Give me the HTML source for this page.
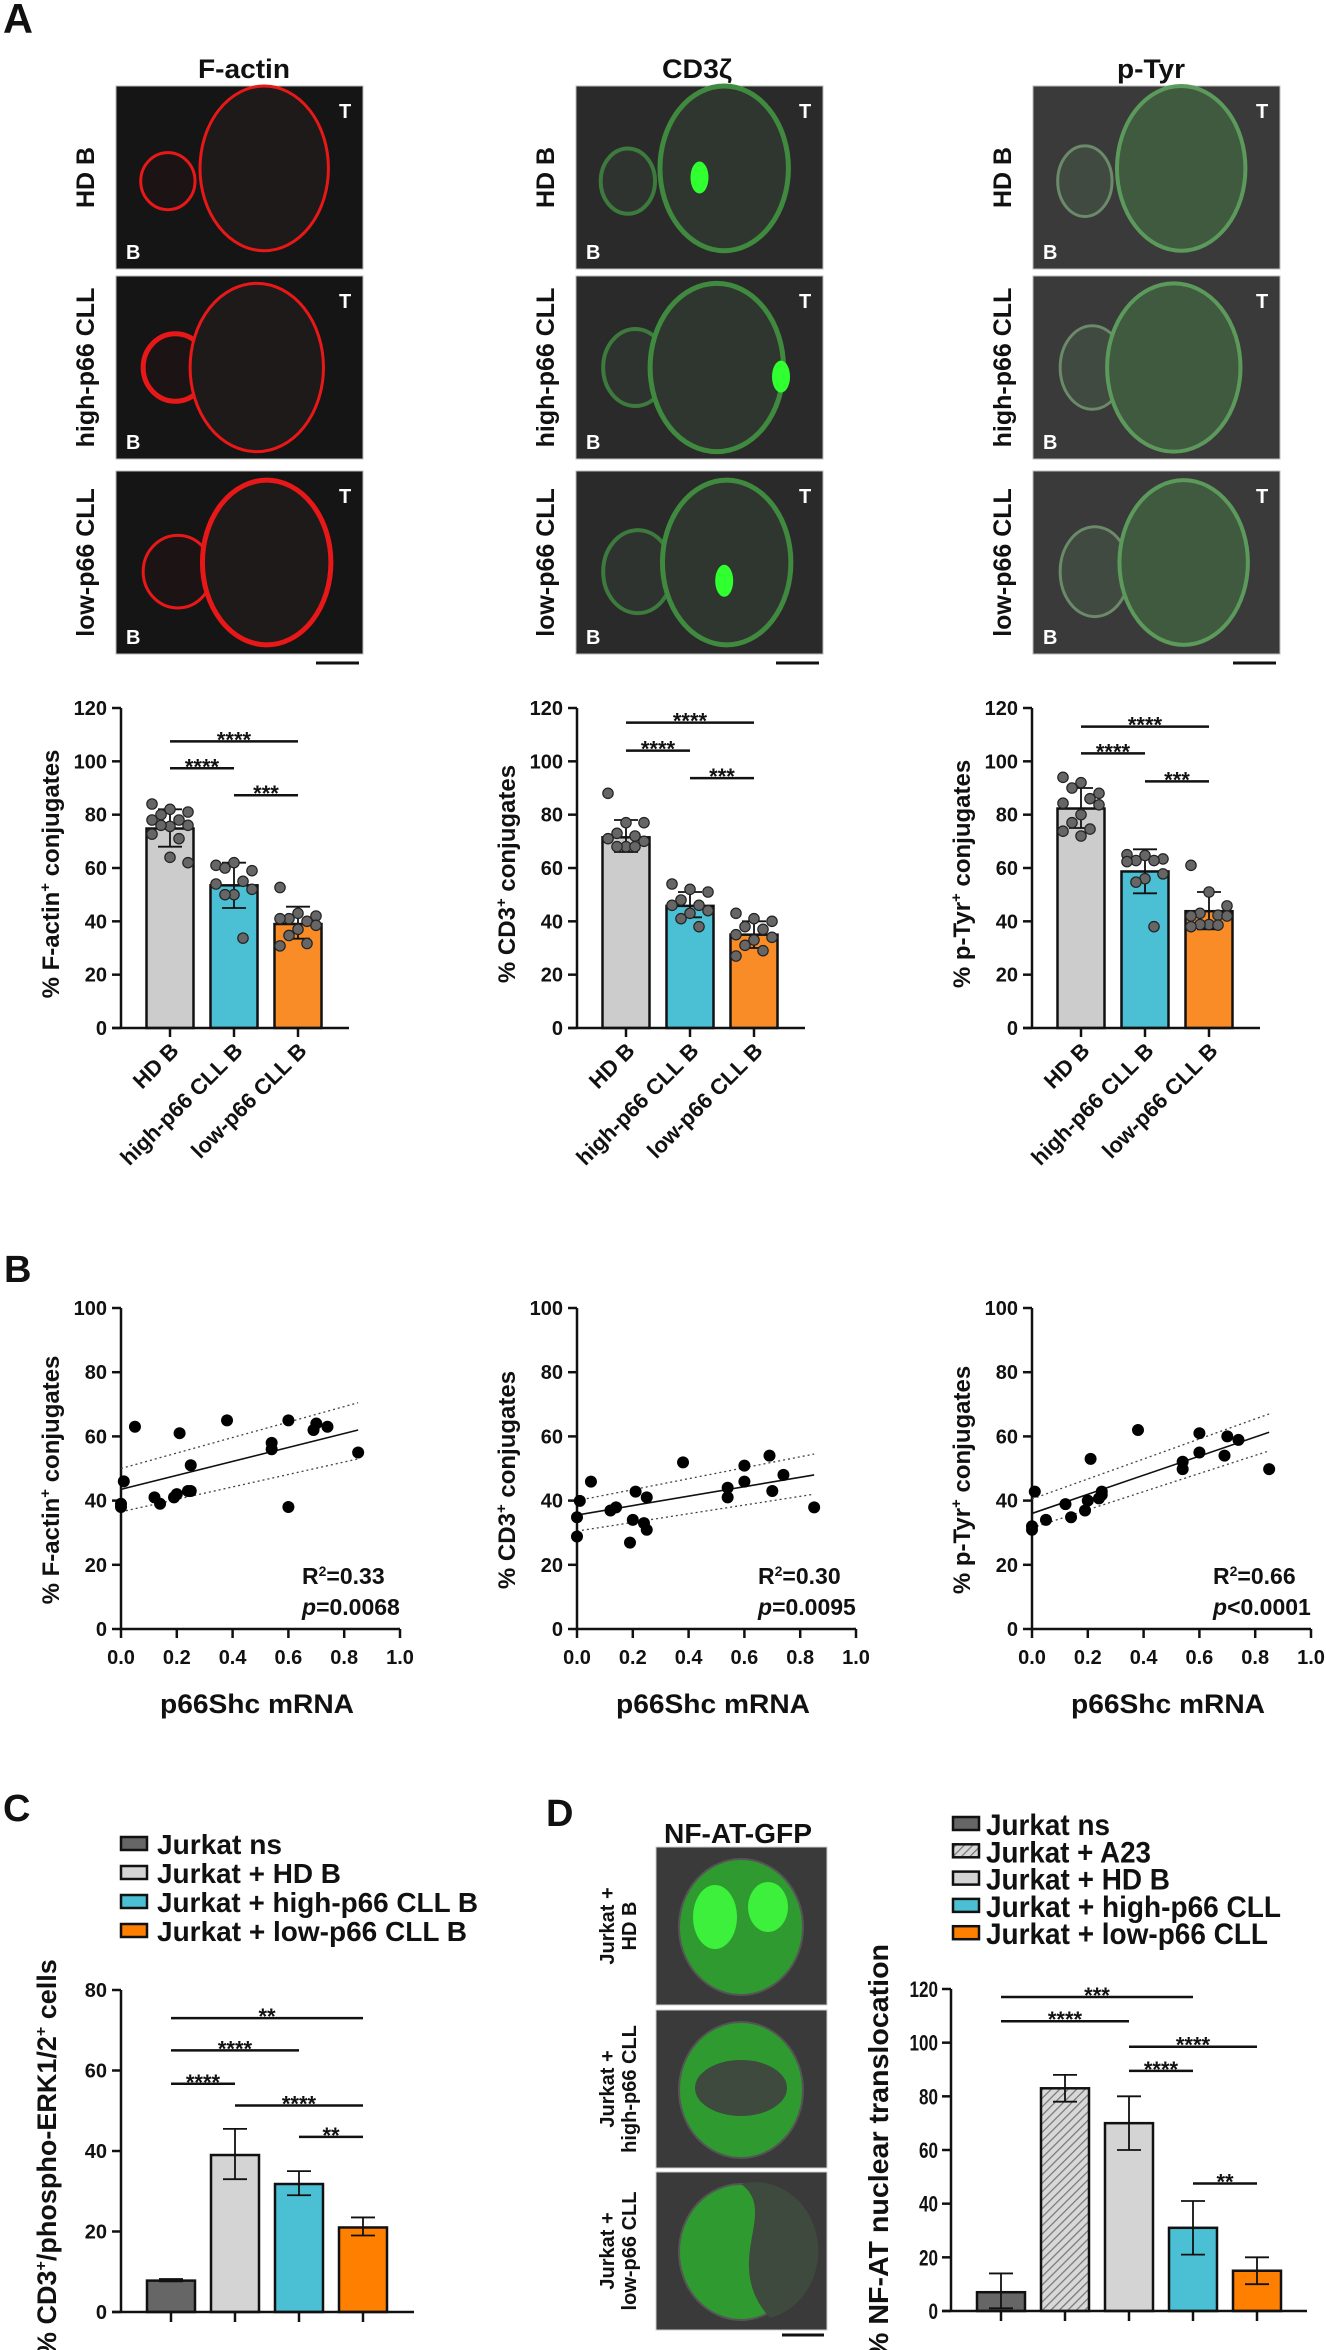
<!DOCTYPE html>
<html><head><meta charset="utf-8"><style>
html,body{margin:0;padding:0;background:#fff}
svg{display:block;font-family:"Liberation Sans",Arial,sans-serif}
</style></head><body>
<svg id="fig" xmlns="http://www.w3.org/2000/svg" width="1326" height="2350" viewBox="0 0 1326 2350"></svg>
<script>
// ---------- DATA ----------
const aCategories=['HD B','high-p66 CLL B','low-p66 CLL B'];
const aTitles=['F-actin','CD3','p-Tyr'];
const aMeans=[[74.8,53.5,39],[71.5,45.8,35],[82.3,58.7,43.8]];
const aErrLo=[[68,45,33.5],[66,41.5,30],[75,50.5,37]];
const aErrHi=[[82,62,45.5],[78,51,40],[90,67,51]];
const aDots1=[[84,82,81,80,78,78,76,75.6,76,71,72.7,64,62],[61,62,59,60,55,54,52,50,50,33.7],[52.7,43,42,41,40,41,38.5,37,34.7,31.7,30.8]];
const aDots2=[[88,77,77,73,72,71,70,68,68,68],[54,52,51,48,46,46,44,43,41,38],[43,41,40,38,37,35,34,33,31,29,27]];
const aDots3=[[94,92,88,90,86,84.3,83.7,80,77,74.6,73.8,72],[65,64.7,63.4,62.8,62.8,62.4,57.8,56,54.7,38],[61,51,45.8,43,42.3,42,42,38.8,38.8,38.6,38]];
const aSigLevels=[[107.5,97.4,87.3],[114.5,104,93.7],[113,103,92.5]];
const aSigPairs=[[0,2],[0,1],[1,2]];
const aSigLabels=['****','****','***'];
const aYTicks=[0,20,40,60,80,100,120];

const bX1=[0,0,0.01,0.05,0.12,0.14,0.19,0.2,0.21,0.24,0.25,0.25,0.38,0.54,0.54,0.6,0.6,0.69,0.7,0.74,0.85];
const bY1=[38,39,46,63,41,39,41,42,61,43,43,51,65,56,58,65,38,62,64,63,55];
const bX2=[0,0,0.01,0.05,0.12,0.14,0.19,0.2,0.21,0.24,0.25,0.25,0.38,0.54,0.54,0.6,0.6,0.69,0.7,0.74,0.85];
const bY2=[28.8,34.8,39.9,45.9,36.9,37.9,26.9,34,42.8,33,30.9,41,51.9,44,41,50.9,45.9,54,43,48,37.9];
const bX3=[0,0,0.01,0.05,0.12,0.14,0.19,0.2,0.21,0.24,0.25,0.25,0.38,0.54,0.54,0.6,0.6,0.69,0.7,0.74,0.85];
const bY3=[30.9,32,42.8,34,38.9,34.8,36.9,40,53,40.7,41.8,42.8,62,49.8,52.1,61,55,54,60,58.9,49.8];
const bFitStart=[43.5,35.5,36];
const bFitEnd=[62,48,61.3];
const bCIUpStart=[50,40,40.5], bCIUpEnd=[70.5,54.5,67];
const bCILoStart=[36.5,30.5,31.5], bCILoEnd=[53,42,55.5];
const bR2=['0.33','0.30','0.66'];
const bP=['=0.0068','=0.0095','<0.0001'];
const bYTitles=['F-actin','CD3','p-Tyr'];
const bXTicks=[0,0.2,0.4,0.6,0.8,1.0];
const bYTicks=[0,20,40,60,80,100];

const cLabels=['Jurkat ns','Jurkat + HD B','Jurkat + high-p66 CLL B','Jurkat + low-p66 CLL B'];
const cMeans=[7.8,39,31.8,21];
const cErrLo=[7.6,33,29,19];
const cErrHi=[8.2,45.5,35,23.5];
const cSigLevels=[73,65,56.7,51.3,43.5];
const cSigPairs=[[0,3],[0,2],[0,1],[1,3],[2,3]];
const cSigLabels=['**','****','****','****','**'];
const cYTicks=[0,20,40,60,80];

const dLabels=['Jurkat ns','Jurkat + A23','Jurkat + HD B','Jurkat + high-p66 CLL','Jurkat + low-p66 CLL'];
const dMeans=[7,83,70,31,15];
const dErrLo=[1,78,60,21,10];
const dErrHi=[14,88,80,41,20];
const dSigLevels=[117,108,98.5,89.5,47.5];
const dSigPairs=[[0,3],[0,2],[2,4],[2,3],[3,4]];
const dSigLabels=['***','****','****','****','**'];
const dYTicks=[0,20,40,60,80,100,120];

// ---------- HELPERS ----------
const NS='http://www.w3.org/2000/svg';
const svg=document.getElementById('fig');
function mk(tag,attrs,parent){const e=document.createElementNS(NS,tag);for(const k in attrs)e.setAttribute(k,attrs[k]);(parent||svg).appendChild(e);return e;}
function txt(x,y,s,size,extra,parent){const t=mk('text',Object.assign({x:x,y:y,'font-size':size,'font-weight':'bold',fill:'#111'},extra||{}),parent);t.textContent=s;return t;}
const colorsA=['#cccccc','#4bbfd3','#fa8c28'];

// defs hatch
const defs=mk('defs',{});
const pat=mk('pattern',{id:'hatch',width:6,height:6,patternUnits:'userSpaceOnUse',patternTransform:'rotate(45)'},defs);
mk('rect',{width:6,height:6,fill:'#d8d8d8'},pat);
mk('line',{x1:0,y1:0,x2:0,y2:6,stroke:'#777','stroke-width':2.5},pat);

// ---------- PANEL LETTERS ----------
let L;
L=txt(3,33,'A',42,{textLength:30,lengthAdjust:'spacingAndGlyphs'});


L=txt(4,1282,'B',38);


L=txt(3,1821,'C',38);


L=txt(546,1826,'D',38);



// ---------- MICROGRAPHS (panel A) ----------
const colX=[116,576,1033];
const rowY=[86,276,471];
const colTitleX=[244,697,1151];
const colTitleW=[92,70,68];
const rowNames=['HD B','high-p66 CLL','low-p66 CLL'];
const titleStrs=['F-actin','CD3\u03B6','p-Tyr'];
for(let c=0;c<3;c++){
  const ct=txt(colTitleX[c],78,titleStrs[c],27,{'text-anchor':'middle',textLength:colTitleW[c],lengthAdjust:'spacingAndGlyphs'});
  
  
  for(let r=0;r<3;r++){
    const x=colX[c],y=rowY[r],w=247,h=183;
    const g=mk('g',{});
    
    
    const bg=['#151515','#2a2a2a','#3a3a3a'][c];
    mk('rect',{x:x,y:y,width:w,height:h,fill:bg,stroke:'#bbb','stroke-width':1},g);
    const sm=[[0.21,0.52,0.11],[0.24,0.5,0.13],[0.25,0.55,0.14]][r];
    const bgc=[[0.6,0.45,0.26,0.45],[0.57,0.5,0.27,0.46],[0.61,0.5,0.26,0.45]][r];
    if(c===0){
      mk('ellipse',{cx:x+sm[0]*w,cy:y+sm[1]*h,rx:sm[2]*w,ry:sm[2]*w*1.05,fill:'#1c1414',stroke:'#e81818','stroke-width':r===1?5:3},g);
      mk('ellipse',{cx:x+bgc[0]*w,cy:y+bgc[1]*h,rx:bgc[2]*w,ry:bgc[3]*h,fill:'#1e1a1a',stroke:'#e81818','stroke-width':r===2?5:3},g);
    }else if(c===1){
      mk('ellipse',{cx:x+sm[0]*w,cy:y+sm[1]*h,rx:sm[2]*w,ry:sm[2]*w*1.2,fill:'#2f332f',stroke:'#3d7a3d','stroke-width':4},g);
      mk('ellipse',{cx:x+bgc[0]*w,cy:y+bgc[1]*h,rx:bgc[2]*w,ry:bgc[3]*h,fill:'#2f362f',stroke:'#3f8a3f','stroke-width':5},g);
      const bl=[[0.5,0.5],[0.83,0.55],[0.6,0.6]][r];
      mk('ellipse',{cx:x+bl[0]*w,cy:y+bl[1]*h,rx:9,ry:16,fill:'#30ff30'},g);
    }else{
      mk('ellipse',{cx:x+sm[0]*w,cy:y+sm[1]*h,rx:sm[2]*w,ry:sm[2]*w*1.3,fill:'#404a40',stroke:'#6a8a6a','stroke-width':3},g);
      mk('ellipse',{cx:x+bgc[0]*w,cy:y+bgc[1]*h,rx:bgc[2]*w,ry:bgc[3]*h,fill:'#3f5a3f',stroke:'#5c9a5c','stroke-width':4},g);
    }
    txt(x+w-24,y+32,'T',20,{fill:'#fff'},g);
    txt(x+10,y+h-10,'B',20,{fill:'#fff'},g);
    const rl=txt(0,0,rowNames[r],25,{'text-anchor':'middle',transform:'translate('+(x-22)+','+(y+h/2)+') rotate(-90)'});
    
    
  }
  const sb=mk('line',{x1:colX[c]+200,y1:663,x2:colX[c]+243,y2:663,stroke:'#111','stroke-width':3});
  
  
}

// ---------- PANEL A BAR CHARTS ----------
const aOx=[121,577,1032];
const aDotsAll=[aDots1,aDots2,aDots3];
const A_Y0=1028, A_Y120=708;
function yA(v){return A_Y0-(v/120)*(A_Y0-A_Y120);}
const jit=[-18,0,18,-9,9,-18,18,0,-9,9,-18,0,18];
for(let c=0;c<3;c++){
  const ox=aOx[c];
  const g=mk('g',{});
  
  
  for(let i=0;i<3;i++){
    const cx=ox+49+64*i;
    const b=mk('rect',{x:cx-23.5,y:yA(aMeans[c][i]),width:47,height:A_Y0-yA(aMeans[c][i]),fill:colorsA[i],stroke:'#111','stroke-width':2.5},g);
    
    
    mk('line',{x1:cx,y1:yA(aErrLo[c][i]),x2:cx,y2:yA(aErrHi[c][i]),stroke:'#111','stroke-width':1.8},g);
    mk('line',{x1:cx-12,y1:yA(aErrLo[c][i]),x2:cx+12,y2:yA(aErrLo[c][i]),stroke:'#111','stroke-width':1.8},g);
    mk('line',{x1:cx-12,y1:yA(aErrHi[c][i]),x2:cx+12,y2:yA(aErrHi[c][i]),stroke:'#111','stroke-width':1.8},g);
    aDotsAll[c][i].forEach((v,k)=>{
      const d=mk('circle',{cx:cx+jit[k%jit.length],cy:yA(v),r:5.2,fill:'#666',stroke:'#222','stroke-width':1.2},g);
      
      
    });
    mk('line',{x1:cx,y1:A_Y0,x2:cx,y2:A_Y0+9,stroke:'#111','stroke-width':2.5},g);
    const xl=txt(0,0,aCategories[i],22,{'text-anchor':'end',transform:'translate('+(cx+10)+','+(A_Y0+24)+') rotate(-45)'},g);
    
    
  }
  mk('line',{x1:ox,y1:A_Y120,x2:ox,y2:A_Y0,stroke:'#111','stroke-width':2.5},g);
  mk('line',{x1:ox-9,y1:A_Y0,x2:ox+228,y2:A_Y0,stroke:'#111','stroke-width':2.5},g);
  aYTicks.forEach(t=>{
    mk('line',{x1:ox-9,y1:yA(t),x2:ox,y2:yA(t),stroke:'#111','stroke-width':2.5},g);
    const tl=txt(ox-14,yA(t)+7,String(t),20,{'text-anchor':'end'},g);
    
    
  });
  aSigPairs.forEach((p,k)=>{
    const x1=ox+49+64*p[0], x2=ox+49+64*p[1], y=yA(aSigLevels[c][k]);
    const sl=mk('line',{x1:x1,y1:y,x2:x2,y2:y,stroke:'#111','stroke-width':2.5},g);
    
    
    txt((x1+x2)/2,y+6,aSigLabels[k],22,{'text-anchor':'middle'},g);
  });
  const yt=mk('text',{'font-size':24,'font-weight':'bold',fill:'#111','text-anchor':'middle',transform:'translate('+(ox-62)+',874) rotate(-90)'},g);
  yt.innerHTML='% '+aTitles[c]+'<tspan font-size="15" dy="-9">+</tspan><tspan dy="9"> conjugates</tspan>';
  
  
}

// ---------- PANEL B SCATTER ----------
const bXs=[bX1,bX2,bX3], bYs=[bY1,bY2,bY3];
const bOx=[121,577,1032];
const B_Y0=1629, B_Y100=1308, B_W=279;
function yB(v){return B_Y0-(v/100)*(B_Y0-B_Y100);}
for(let c=0;c<3;c++){
  const ox=bOx[c];
  const xB=v=>ox+v*B_W;
  const g=mk('g',{});
  
  
  mk('line',{x1:ox,y1:B_Y100,x2:ox,y2:B_Y0,stroke:'#111','stroke-width':2.5},g);
  mk('line',{x1:ox,y1:B_Y0,x2:ox+B_W,y2:B_Y0,stroke:'#111','stroke-width':2.5},g);
  bYTicks.forEach(t=>{
    mk('line',{x1:ox-9,y1:yB(t),x2:ox,y2:yB(t),stroke:'#111','stroke-width':2.5},g);
    const tl=txt(ox-14,yB(t)+7,String(t),20,{'text-anchor':'end'},g);
    
    
  });
  bXTicks.forEach(t=>{
    mk('line',{x1:xB(t),y1:B_Y0,x2:xB(t),y2:B_Y0+9,stroke:'#111','stroke-width':2.5},g);
    const tl=txt(xB(t),B_Y0+35,t.toFixed(1),20,{'text-anchor':'middle'},g);
    
    
  });
  const ci1=mk('line',{x1:xB(0),y1:yB(bCIUpStart[c]),x2:xB(0.85),y2:yB(bCIUpEnd[c]),stroke:'#444','stroke-width':1.3,'stroke-dasharray':'2,3'},g);
  
  
  const ci2=mk('line',{x1:xB(0),y1:yB(bCILoStart[c]),x2:xB(0.85),y2:yB(bCILoEnd[c]),stroke:'#444','stroke-width':1.3,'stroke-dasharray':'2,3'},g);
  
  
  const fit=mk('line',{x1:xB(0),y1:yB(bFitStart[c]),x2:xB(0.85),y2:yB(bFitEnd[c]),stroke:'#111','stroke-width':1.6},g);
  
  
  bXs[c].forEach((xv,k)=>{
    const p=mk('circle',{cx:xB(xv),cy:yB(bYs[c][k]),r:6,fill:'#000'},g);
    
    
  });
  const r2=mk('text',{x:ox+181,y:1584,'font-size':23,'font-weight':'bold',fill:'#111'},g);
  r2.innerHTML='R<tspan font-size="14" dy="-8">2</tspan><tspan dy="8">='+bR2[c]+'</tspan>';
  
  
  const pv=mk('text',{x:ox+181,y:1615,'font-size':23,'font-weight':'bold',fill:'#111'},g);
  pv.innerHTML='<tspan font-style="italic">p</tspan>'+bP[c];
  
  
  const xt=txt(ox+136,1713,'p66Shc mRNA',27,{'text-anchor':'middle',textLength:194,lengthAdjust:'spacingAndGlyphs'},g);
  
  
  const yt=mk('text',{'font-size':24,'font-weight':'bold',fill:'#111','text-anchor':'middle',transform:'translate('+(ox-62)+',1480) rotate(-90)'},g);
  yt.innerHTML='% '+bYTitles[c]+'<tspan font-size="15" dy="-9">+</tspan><tspan dy="9"> conjugates</tspan>';
  
  
}

// ---------- PANEL C ----------
const cColors=['#666666','#d4d4d4','#4bbfd3','#ff8000'];
const C_OX=121, C_Y0=2312, C_Y80=1990;
function yC(v){return C_Y0-(v/80)*(C_Y0-C_Y80);}
const cLegW=[125,184,321,310];
(function(){
  const g=mk('g',{});
  
  
  cLabels.forEach((s,i)=>{
    const cy=1844+29*i;
    const lb=mk('rect',{x:121,y:cy-7,width:26,height:13,fill:cColors[i],stroke:'#111','stroke-width':2.5},g);
    
    
    const lt=txt(157,cy+10,s,28,{textLength:cLegW[i],lengthAdjust:'spacingAndGlyphs'},g);
    
    
  });
  cMeans.forEach((v,i)=>{
    const cx=C_OX+50+64*i;
    const b=mk('rect',{x:cx-24,y:yC(v),width:48,height:C_Y0-yC(v),fill:cColors[i],stroke:'#111','stroke-width':2.5},g);
    
    
    mk('line',{x1:cx,y1:yC(cErrLo[i]),x2:cx,y2:yC(cErrHi[i]),stroke:'#111','stroke-width':1.8},g);
    mk('line',{x1:cx-12,y1:yC(cErrLo[i]),x2:cx+12,y2:yC(cErrLo[i]),stroke:'#111','stroke-width':1.8},g);
    mk('line',{x1:cx-12,y1:yC(cErrHi[i]),x2:cx+12,y2:yC(cErrHi[i]),stroke:'#111','stroke-width':1.8},g);
    mk('line',{x1:cx,y1:C_Y0,x2:cx,y2:C_Y0+10,stroke:'#111','stroke-width':2.5},g);
  });
  mk('line',{x1:C_OX,y1:C_Y80,x2:C_OX,y2:C_Y0,stroke:'#111','stroke-width':2.5},g);
  mk('line',{x1:C_OX-9,y1:C_Y0,x2:414,y2:C_Y0,stroke:'#111','stroke-width':2.5},g);
  cYTicks.forEach(t=>{
    mk('line',{x1:C_OX-9,y1:yC(t),x2:C_OX,y2:yC(t),stroke:'#111','stroke-width':2.5},g);
    const tl=txt(C_OX-14,yC(t)+7,String(t),20,{'text-anchor':'end'},g);
    
    
  });
  cSigPairs.forEach((p,k)=>{
    const x1=C_OX+50+64*p[0], x2=C_OX+50+64*p[1], y=yC(cSigLevels[k]);
    const sl=mk('line',{x1:x1,y1:y,x2:x2,y2:y,stroke:'#111','stroke-width':2.5},g);
    
    
    txt((x1+x2)/2,y+6,cSigLabels[k],22,{'text-anchor':'middle'},g);
  });
  const yt=mk('text',{'font-size':27,'font-weight':'bold',fill:'#111','text-anchor':'start',transform:'translate(56,2356) rotate(-90)'},g);
  yt.innerHTML='% CD3<tspan font-size="16" dy="-10">+</tspan><tspan dy="10">/phospho-ERK1/2</tspan><tspan font-size="16" dy="-10">+</tspan><tspan dy="10"> cells</tspan>';
  
  
})();

// ---------- PANEL D ----------
(function(){
  const t=txt(738,1843,'NF-AT-GFP',28,{'text-anchor':'middle',textLength:148,lengthAdjust:'spacingAndGlyphs'});
  
  
  const ry=[1847,2010,2172];
  const l1=['Jurkat +','Jurkat +','Jurkat +'];
  const l2=['HD B','high-p66 CLL','low-p66 CLL'];
  ry.forEach((y,r)=>{
    const g=mk('g',{});
    
    
    mk('rect',{x:656,y:y,width:171,height:158,fill:'#3a3a3a',stroke:'#ccc','stroke-width':1},g);
    mk('ellipse',{cx:741,cy:y+80,rx:62,ry:68,fill:'#2f9a2f',stroke:'#555','stroke-width':2},g);
    if(r===0){
      mk('ellipse',{cx:715,cy:y+70,rx:22,ry:32,fill:'#3cf03c'},g);
      mk('ellipse',{cx:768,cy:y+60,rx:20,ry:25,fill:'#3cf03c'},g);
    }else if(r===1){
      mk('ellipse',{cx:741,cy:y+78,rx:46,ry:28,fill:'#3d4a3d'},g);
    }else{
      mk('path',{d:'M741 '+(y+12)+' C 780 '+(y+40)+' 720 '+(y+90)+' 770 '+(y+146)+' A 62 68 0 0 0 741 '+(y+12)+' Z',fill:'#3e4a3e'},g);
    }
    const a=txt(0,0,l1[r],20,{'text-anchor':'middle',transform:'translate(614,'+(y+79)+') rotate(-90)'});
    
    
    const b=txt(0,0,l2[r],20,{'text-anchor':'middle',transform:'translate(636,'+(y+79)+') rotate(-90)'});
    
    
  });
  const sb=mk('line',{x1:782,y1:2335,x2:824,y2:2335,stroke:'#111','stroke-width':3});
  
  
})();
const dColors=['#666666','url(#hatch)','#d4d4d4','#4bbfd3','#ff8000'];
const dLegW=[124,165,184,295,282];
const D_OX=951, D_Y0=2311, D_Y120=1989;
function yD(v){return D_Y0-(v/120)*(D_Y0-D_Y120);}
(function(){
  const g=mk('g',{});
  
  
  dLabels.forEach((s,i)=>{
    const cy=1824+27.3*i;
    const lb=mk('rect',{x:953,y:cy-7,width:26,height:13,fill:dColors[i],stroke:'#111','stroke-width':2.5},g);
    
    
    const lt=txt(986,cy+11,s,30,{textLength:dLegW[i],lengthAdjust:'spacingAndGlyphs'},g);
    
    
  });
  dMeans.forEach((v,i)=>{
    const cx=D_OX+50+64*i;
    const b=mk('rect',{x:cx-24,y:yD(v),width:48,height:D_Y0-yD(v),fill:dColors[i],stroke:'#111','stroke-width':2.5},g);
    
    
    mk('line',{x1:cx,y1:yD(dErrLo[i]),x2:cx,y2:yD(dErrHi[i]),stroke:'#111','stroke-width':1.8},g);
    mk('line',{x1:cx-12,y1:yD(dErrLo[i]),x2:cx+12,y2:yD(dErrLo[i]),stroke:'#111','stroke-width':1.8},g);
    mk('line',{x1:cx-12,y1:yD(dErrHi[i]),x2:cx+12,y2:yD(dErrHi[i]),stroke:'#111','stroke-width':1.8},g);
    mk('line',{x1:cx,y1:D_Y0,x2:cx,y2:D_Y0+10,stroke:'#111','stroke-width':2.5},g);
  });
  mk('line',{x1:D_OX,y1:D_Y120,x2:D_OX,y2:D_Y0,stroke:'#111','stroke-width':2.5},g);
  mk('line',{x1:D_OX-9,y1:D_Y0,x2:1307,y2:D_Y0,stroke:'#111','stroke-width':2.5},g);
  dYTicks.forEach(t=>{
    mk('line',{x1:D_OX-9,y1:yD(t),x2:D_OX,y2:yD(t),stroke:'#111','stroke-width':2.5},g);
    const tl=txt(D_OX-13,yD(t)+8,String(t),22,{'text-anchor':'end',textLength:String(t).length*9.5,lengthAdjust:'spacingAndGlyphs'},g);
    
    
  });
  dSigPairs.forEach((p,k)=>{
    const x1=D_OX+50+64*p[0], x2=D_OX+50+64*p[1], y=yD(dSigLevels[k]);
    const sl=mk('line',{x1:x1,y1:y,x2:x2,y2:y,stroke:'#111','stroke-width':2.5},g);
    
    
    txt((x1+x2)/2,y+6,dSigLabels[k],22,{'text-anchor':'middle'},g);
  });
  const yt=txt(0,0,'% NF-AT nuclear translocation',28,{'text-anchor':'start',transform:'translate(888,2358) rotate(-90)',textLength:414,lengthAdjust:'spacingAndGlyphs'},g);
  
  
})();
</script>
</body></html>
